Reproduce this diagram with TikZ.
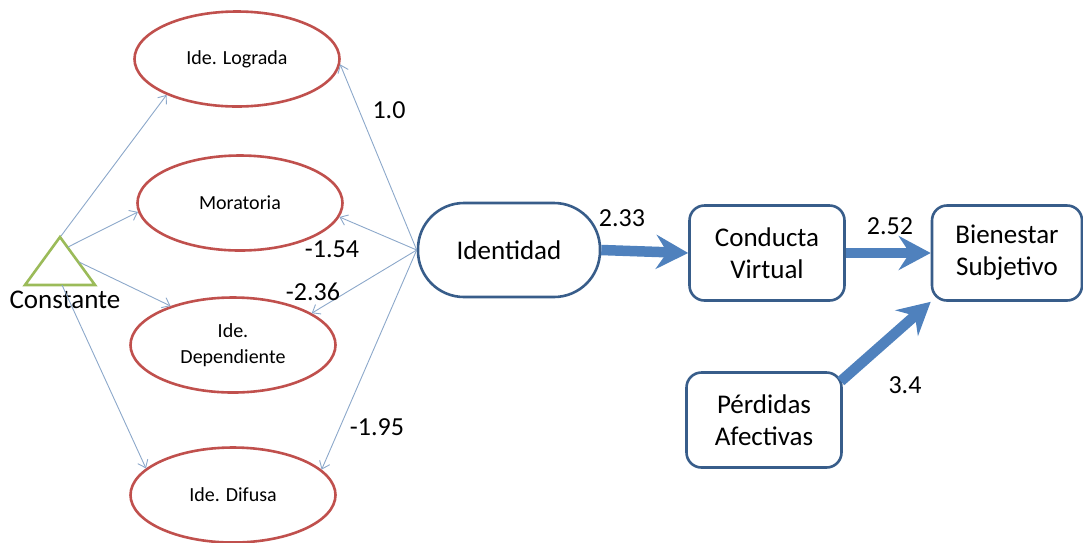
\documentclass[tikz,border=0pt]{standalone}
\usepackage{fontspec}
\setmainfont{Carlito}
\usetikzlibrary{shapes.geometric,arrows.meta}
\definecolor{ellred}{RGB}{192,80,77}
\definecolor{boxblue}{RGB}{56,93,138}
\definecolor{arrblue}{RGB}{79,129,189}
\definecolor{thinblue}{RGB}{140,168,202}
\definecolor{trigreen}{RGB}{155,187,89}
\tikzset{
  latent/.style={ellipse, draw=ellred, line width=2.6pt, minimum width=205pt, minimum height=95pt, inner sep=0pt, font=\fontsize{20}{24}\selectfont, align=center},
  obsbox/.style={rectangle, rounded corners=15pt, draw=boxblue, line width=2.6pt, minimum width=155pt, minimum height=95pt, font=\fontsize{27}{32}\selectfont, align=center},
  thin/.style={draw=thinblue, line width=0.9pt, -{Straight Barb[length=7pt,width=11pt]}},
  thick/.style={draw=arrblue, line width=10.5pt, -{Stealth[length=32pt,width=34pt,inset=11pt]}},
  coef/.style={font=\fontsize{26}{30}\selectfont, inner sep=0pt},
}
\begin{document}
\begin{tikzpicture}[x=1pt,y=-1pt]
\useasboundingbox (0,0) rectangle (1083,542);
% latent ellipses
\node[latent] (log) at (237,59) {Ide. Lograda};
\node[latent] (mor) at (240,203) {Moratoria};
\node[latent] (dep) at (233,345) {Ide.\\[2pt]Dependiente};
\node[latent] (dif) at (233,495) {Ide. Difusa};
% triangle
\coordinate (tA) at (60,237);
\coordinate (tL) at (25,285);
\coordinate (tR) at (95,285);
\draw[trigreen, line width=2.6pt, line join=miter] (tA) -- (tL) -- (tR) -- cycle;
\node[font=\fontsize{27}{32}\selectfont, inner sep=0pt] (const) at (65,300) {Constante};
\coordinate (t1) at (61,236);
\coordinate (t2) at (68,247);
\coordinate (t3) at (79,262);
\coordinate (t4) at (62,285);
% identidad
\node[rectangle, rounded corners=46pt, draw=boxblue, line width=2.6pt, minimum width=182pt, minimum height=94pt, font=\fontsize{27}{32}\selectfont] (ide) at (509,250) {Identidad};
\node[obsbox] (con) at (767,253) {Conducta\\Virtual};
\node[obsbox, minimum width=150pt] (bie) at (1007,253) {Bienestar\\Subjetivo};
\node[obsbox] (per) at (764,420) {Pérdidas\\Afectivas};
% thin arrows from triangle
\draw[thin] (t1) -- (log.207);
\draw[thin] (t2) -- (mor.185);
\draw[thin] (t3) -- (dep.148);
\draw[thin] (t4) -- (dif.163);
% thin arrows from identidad
\draw[thin] (ide.west) -- (log.-3);
\draw[thin] (ide.west) -- (mor.-8);
\draw[thin] (ide.west) -- (dep.22);
\draw[thin] (ide.west) -- (dif.16);
% thick arrows
\draw[thick] (ide.east) -- (con.west);
\draw[thick] (con.east) -- (bie.west);
\path (per.north east) ++(-2,10) coordinate (pstart);
\draw[thick] (pstart) -- (bie.south west);
% coefficients
\node[coef] (c1) at (389,110) {1.0};
\node[coef] (c2) at (332,249) {-1.54};
\node[coef] (c3) at (313,292) {-2.36};
\node[coef] (c4) at (377,427) {-1.95};
\node[coef] (c5) at (622,218) {2.33};
\node[coef] (c6) at (890,226) {2.52};
\node[coef] (c7) at (905,385) {3.4};
\end{tikzpicture}
\end{document}
